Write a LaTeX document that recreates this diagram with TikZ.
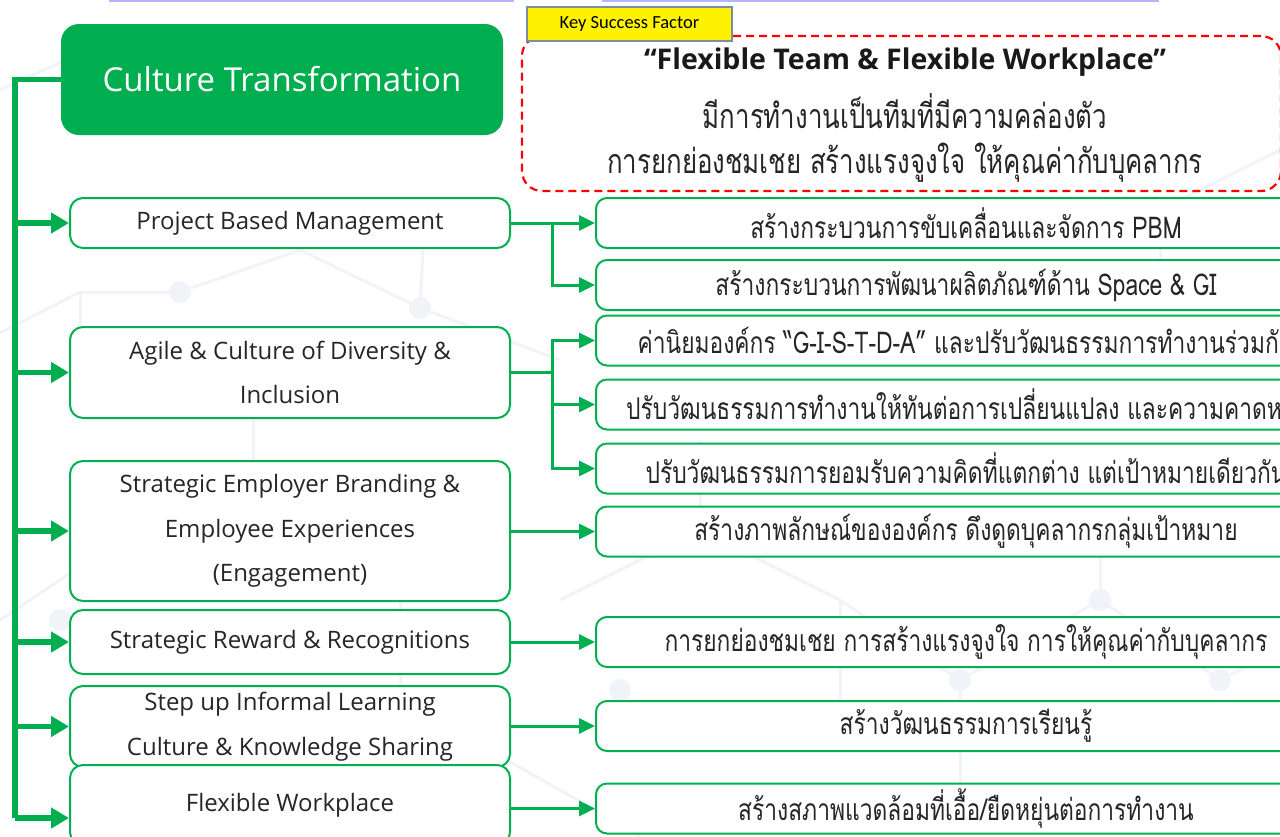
\documentclass[tikz,border=0pt]{standalone}
\usepackage{fontspec}
\setmainfont{Open Sans}
\newfontfamily\thaifont[Script=Thai,FakeStretch=0.76]{Loma}
\newfontfamily\keyfont{Carlito}
\usetikzlibrary{arrows.meta,calc}
\definecolor{ctgreen}{HTML}{00AE4F}
\definecolor{lngreen}{HTML}{00B050}
\definecolor{kfred}{HTML}{FF0000}
\definecolor{bgnet}{HTML}{F0F4F9}
\definecolor{topline}{HTML}{B4B4FF}
\definecolor{keyedge}{HTML}{7A8FA6}
\tikzset{
  ctbox/.style={fill=ctgreen, rounded corners=18pt, minimum width=442pt, minimum height=111pt, inner sep=0pt, text=white, font=\fontsize{33}{40}\selectfont},
  leftbox/.style={draw=lngreen, line width=2pt, fill=white, rounded corners=13pt, minimum width=440pt, inner sep=0pt, align=center, text=black!85, font=\fontsize{24}{44.5}\selectfont},
  rightbox/.style={draw=lngreen, line width=2pt, fill=white, rounded corners=11pt, minimum width=740pt, minimum height=50pt, inner sep=0pt, text=black!85, font=\thaifont\fontsize{30}{32}\selectfont},
  ksfbox/.style={draw=kfred, line width=2.2pt, dash pattern=on 8pt off 5pt, rounded corners=20pt, minimum width=759pt, minimum height=155pt},
  keybox/.style={fill=yellow, draw=keyedge, line width=1.2pt, minimum width=205pt, minimum height=34pt, inner sep=0pt, font=\keyfont\fontsize{18.5}{20}\selectfont},
  thaitext/.style={text=black!85, font=\thaifont\fontsize{34}{36}\selectfont},
  bus/.style={draw=ctgreen, line width=5.5pt},
  busarrow/.style={bus, -{Triangle[length=18pt,width=20pt]}},
  link/.style={draw=lngreen, line width=3pt, -{Triangle[length=16pt,width=15pt]}},
  net/.style={draw=bgnet, line width=3pt},
}

\begin{document}
\begin{tikzpicture}[x=1pt, y=-1pt]
	%%%%% START %%%%%
	\useasboundingbox (0,0) rectangle (1280,836);
	\clip (0,0) rectangle (1280,836);
	\fill[white] (0,0) rectangle (1280,836);
	
	% faint network in the background
	\foreach \xa/\ya/\xb/\yb in {0/333/80/292, 80/292/180/292, 180/292/300/250, 80/292/80/400,
		300/250/420/308, 420/308/423/250, 420/308/560/360, 253/410/253/480, 253/480/120/540,
		253/480/400/560, 400/560/400/700, 400/700/260/780, 400/700/560/790, 0/620/120/540,
		560/600/700/530, 700/530/840/600, 840/600/960/680, 960/680/1100/600, 1100/600/1220/680,
		960/680/960/836, 1100/600/1100/520, 1220/680/1280/650, 840/600/840/700, 700/530/700/440,
		0/90/110/40, 560/790/640/836, 1160/210/1280/150, 1160/210/1160/300}
		\draw[net] (\xa,\ya) -- (\xb,\yb);
	\foreach \cx/\cy in {180/292, 420/308, 253/480, 400/700, 700/530, 960/680, 1100/600, 620/690, 1220/680, 60/620}
		\fill[bgnet] (\cx,\cy) circle (11);
	
	% top rule
	\draw[topline, line width=2pt] (109,1) -- (514,1);
	\draw[topline, line width=2pt] (602,1) -- (1159,1);
	
	% key success factor
	\node[ksfbox] (ksf) at (901.5,113.5) {};
	\node[text=black!90, font=\bfseries\fontsize{28.5}{30}\selectfont] (ksft) at (905,62) {“Flexible Team \& Flexible Workplace”};
	\node[thaitext] (ksf1) at (905,111) {มีการทำงานเป็นทีมที่มีความคล่องตัว};
	\node[thaitext] (ksf2) at (905,163) {การยกย่องชมเชย สร้างแรงจูงใจ ให้คุณค่ากับบุคลากร};
	\node[keybox] (key) at (629.5,24) {Key Success Factor};
	
	% main box and left column
	\node[ctbox] (ct) at (282,79.5) {Culture Transformation};
	
	\node[leftbox, minimum height=50pt] (lb1) at (290,223) {Project Based Management};
	\node[leftbox, minimum height=91pt] (lb2) at (290,372.5) {Agile \& Culture of Diversity \&\\Inclusion};
	\node[leftbox, minimum height=140pt] (lb3) at (290,531) {Strategic Employer Branding \&\\Employee Experiences\\(Engagement)};
	\node[leftbox, minimum height=64pt] (lb4) at (290,642) {Strategic Reward \& Recognitions};
	\node[leftbox, minimum height=81pt] (lb5) at (290,726.5) {Step up Informal Learning\\Culture \& Knowledge Sharing};
	\node[leftbox, minimum height=80pt] (lb6) at (290,805) {Flexible Workplace};
	
	% right column
	\node[rightbox] (rb1) at (966,223) {สร้างกระบวนการขับเคลื่อนและจัดการ PBM};
	\node[rightbox] (rb2) at (966,285) {สร้างกระบวนการพัฒนาผลิตภัณฑ์ด้าน Space \& GI};
	\node[rightbox] (rb3) at (966,340.5) {ค่านิยมองค์กร “G-I-S-T-D-A” และปรับวัฒนธรรมการทำงานร่วมกัน};
	\node[rightbox] (rb4) at (966,404.5) {ปรับวัฒนธรรมการทำงานให้ทันต่อการเปลี่ยนแปลง และความคาดหวัง};
	\node[rightbox] (rb5) at (966,468.5) {ปรับวัฒนธรรมการยอมรับความคิดที่แตกต่าง แต่เป้าหมายเดียวกัน};
	\node[rightbox] (rb6) at (966,531.5) {สร้างภาพลักษณ์ขององค์กร ดึงดูดบุคลากรกลุ่มเป้าหมาย};
	\node[rightbox] (rb7) at (966,642) {การยกย่องชมเชย การสร้างแรงจูงใจ การให้คุณค่ากับบุคลากร};
	\node[rightbox] (rb8) at (966,726) {สร้างวัฒนธรรมการเรียนรู้};
	\node[rightbox] (rb9) at (966,808.5) {สร้างสภาพแวดล้อมที่เอื้อ/ยืดหยุ่นต่อการทำงาน};
	
	% bus on the left
	\coordinate (bustop) at (15,79.5);
	\coordinate (busend) at (15,818);
	\draw[bus] (ct.west) -- (bustop) -- (busend);
	\foreach \b in {lb1,lb2,lb3,lb4,lb5}
		\draw[busarrow] (bustop |- \b.west) -- (\b.west);
	\draw[busarrow] (busend) -- (busend -| lb6.west);
	
	% links to the right
	\coordinate (jx) at (552,0);
	\draw[link] (lb1.east) -- (rb1.west);
	\draw[link] (jx |- lb1.east) |- (rb2.west);
	\draw[lngreen, line width=3pt] (lb2.east) -- (jx |- lb2.east);
	\foreach \r in {rb3,rb4,rb5}
		\draw[link] (jx |- lb2.east) |- (\r.west);
	\draw[link] (rb6.west -| lb3.east) -- (rb6.west);
	\draw[link] (lb4.east) -- (rb7.west);
	\draw[link] (rb8.west -| lb5.east) -- (rb8.west);
	\draw[link] (rb9.west -| lb6.east) -- (rb9.west);
	
	%%%%% END %%%%%
\end{tikzpicture}
\end{document}
